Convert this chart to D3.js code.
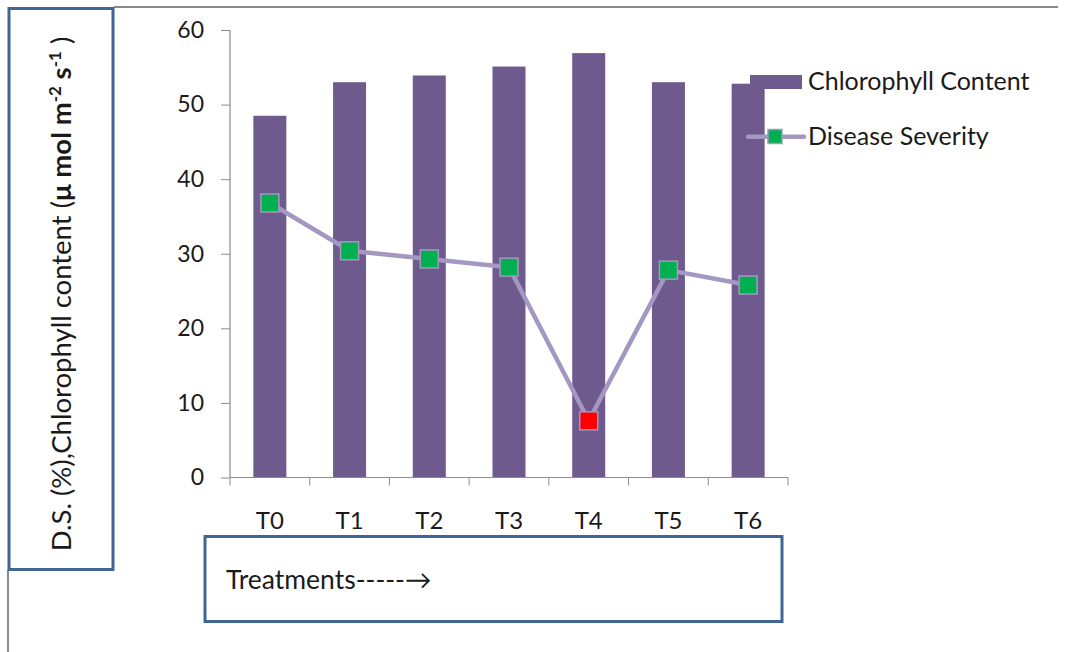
<!DOCTYPE html>
<html>
<head>
<meta charset="utf-8">
<script src="https://cdn.jsdelivr.net/npm/d3@7"></script>
<style>
  html, body { margin: 0; padding: 0; background: #fff; }
  svg { display: block; }
  text { font-family: "Lato", "Open Sans", sans-serif; fill: #1a1a1a; }
</style>
</head>
<body>
<svg id="chart" width="1066" height="652"></svg>
<script>
// Treatments and their measured values
const treatments = ["T0", "T1", "T2", "T3", "T4", "T5", "T6"];
const chlorophyll = [48.5, 53.0, 53.9, 55.1, 56.9, 53.0, 52.8];
const severity = [36.8, 30.4, 29.3, 28.2, 7.6, 27.8, 25.8];
const yTicks = [0, 10, 20, 30, 40, 50, 60];
const seriesNames = ["Chlorophyll Content", "Disease Severity"];

const barColor = "#6f5a8e";
const lineColor = "#a497c1";
const markerGreen = "#00b050";
const markerRed = "#ff0000";
const boxBlue = "#3f6696";
const axisGray = "#8c8c8c";

const svg = d3.select("#chart");
svg.append("rect").attr("width", 1066).attr("height", 652).attr("fill", "#fff");

// frame lines of the chart area
svg.append("line").attr("x1", 114).attr("x2", 1058).attr("y1", 7).attr("y2", 7)
  .attr("stroke", "#8a8a8a").attr("stroke-width", 2);
svg.append("line").attr("x1", 8).attr("x2", 8).attr("y1", 570).attr("y2", 652)
  .attr("stroke", "#8a8a8a").attr("stroke-width", 2);

const x = d3.scaleBand().domain(treatments).range([230, 788])
  .paddingInner(0.586).paddingOuter(0.293);
const y = d3.scaleLinear().domain([0, 60]).range([477.5, 30]);

// bars
svg.append("g").selectAll("rect").data(chlorophyll).join("rect")
  .attr("x", (d, i) => x(treatments[i]))
  .attr("width", x.bandwidth())
  .attr("y", d => y(d))
  .attr("height", d => y(0) - y(d))
  .attr("fill", barColor);

// y axis
const yAxis = svg.append("g").attr("transform", "translate(230,0)")
  .call(d3.axisLeft(y).tickValues(yTicks).tickSize(9).tickPadding(17));
// x axis: labels centred in each category, ticks on the category edges
const step = x.step();
const xEdges = d3.range(treatments.length + 1).map(i => 230 + i * step);
const xAxis = svg.append("g").attr("transform", `translate(0,${y(0)})`)
  .call(d3.axisBottom(x).tickSize(0).tickPadding(34));
xAxis.selectAll(".edge").data(xEdges).join("line")
  .attr("class", "edge").attr("x1", d => d).attr("x2", d => d)
  .attr("y1", 0).attr("y2", 8).attr("stroke", axisGray);

[yAxis, xAxis].forEach(g => {
  g.select(".domain").attr("stroke", axisGray).attr("stroke-width", 1.2);
  g.selectAll(".tick line").attr("stroke", axisGray);
  g.selectAll("text").attr("font-size", 23).attr("font-family", "Lato").attr("fill", "#1a1a1a");
});
yAxis.select(".domain").attr("d", `M0,${y(60)}V${y(0)}`);
xAxis.select(".domain").attr("d", `M230,0H788`);
xAxis.selectAll(".tick text").attr("font-size", 24);

// disease severity line
const cx = i => x(treatments[i]) + x.bandwidth() / 2;
const line = d3.line().x((d, i) => cx(i)).y(d => y(d));
svg.append("path").datum(severity).attr("d", line)
  .attr("fill", "none").attr("stroke", lineColor).attr("stroke-width", 4.5)
  .attr("stroke-linejoin", "round");

const minIdx = d3.minIndex(severity);
const mk = 18;
svg.append("g").selectAll("rect").data(severity).join("rect")
  .attr("x", (d, i) => cx(i) - mk / 2)
  .attr("y", d => y(d) - mk / 2)
  .attr("width", mk).attr("height", mk)
  .attr("fill", (d, i) => i === minIdx ? markerRed : markerGreen)
  .attr("stroke", lineColor).attr("stroke-width", 1.5);

// legend
const leg = svg.append("g");
leg.append("rect").attr("x", 750).attr("y", 75).attr("width", 52).attr("height", 14).attr("fill", barColor);
leg.append("line").attr("x1", 748).attr("x2", 804).attr("y1", 136.7).attr("y2", 136.7)
  .attr("stroke", lineColor).attr("stroke-width", 4.5).attr("stroke-linecap", "round");
leg.append("rect").attr("x", 768).attr("y", 129.5).attr("width", 14).attr("height", 14)
  .attr("fill", markerGreen).attr("stroke", lineColor).attr("stroke-width", 1.5);
leg.selectAll("text").data(seriesNames).join("text")
  .attr("x", 808).attr("y", (d, i) => i === 0 ? 90 : 145)
  .attr("font-size", 25).text(d => d);

// x axis title box
svg.append("rect").attr("x", 205).attr("y", 536.5).attr("width", 577).attr("height", 85)
  .attr("fill", "none").attr("stroke", boxBlue).attr("stroke-width", 3);
svg.append("text").attr("x", 226).attr("y", 588.5).attr("font-size", 26.5).text("Treatments-----\u2192");

// y axis title box
svg.append("rect").attr("x", 9).attr("y", 8.5).attr("width", 104).attr("height", 561)
  .attr("fill", "none").attr("stroke", boxBlue).attr("stroke-width", 3);
const yt = svg.append("text")
  .attr("transform", "translate(71,294) rotate(-90)")
  .attr("text-anchor", "middle").attr("font-size", 27.5);
yt.append("tspan").text("D.S. (%),Chlorophyll content (");
yt.append("tspan").attr("font-weight", "bold").text("\u03bc mol m");
yt.append("tspan").attr("font-weight", "bold").attr("font-size", 17).attr("baseline-shift", "super").text("-2");
yt.append("tspan").attr("font-weight", "bold").text(" s");
yt.append("tspan").attr("font-weight", "bold").attr("font-size", 17).attr("baseline-shift", "super").text("-1");
yt.append("tspan").text(" )");
</script>
</body>
</html>
